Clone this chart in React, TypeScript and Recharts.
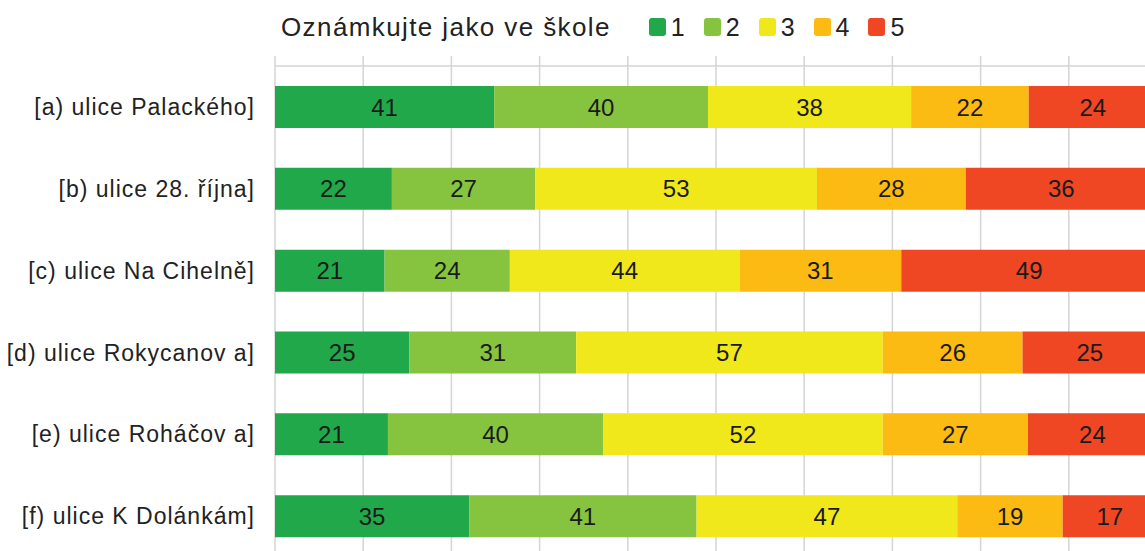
import React from 'react';
import { BarChart, Bar, XAxis, YAxis, CartesianGrid, LabelList } from 'recharts';

const title = 'Oznámkujte jako ve škole';
const categories = [
  '[a) ulice Palackého]',
  '[b) ulice 28. října]',
  '[c) ulice Na Cihelně]',
  '[d) ulice Rokycanov a]',
  '[e) ulice Roháčov a]',
  '[f) ulice K Dolánkám]',
];
const grade1 = [41, 22, 21, 25, 21, 35];
const grade2 = [40, 27, 24, 31, 40, 41];
const grade3 = [38, 53, 44, 57, 52, 47];
const grade4 = [22, 28, 31, 26, 27, 19];
const grade5 = [24, 36, 49, 25, 24, 17];
const seriesNames = ['1', '2', '3', '4', '5'];
const seriesColors = ['#21a84a', '#86c440', '#f0e81a', '#fcbb12', '#ef4624'];
const xTicks = [0, 0.1, 0.2, 0.3, 0.4, 0.5, 0.6, 0.7, 0.8, 0.9, 1];
const bandTicks = [0, 1, 2, 3, 4, 5, 6];

const data = categories.map((name, i) => ({
  name,
  g1: grade1[i],
  g2: grade2[i],
  g3: grade3[i],
  g4: grade4[i],
  g5: grade5[i],
}));
const keys = ['g1', 'g2', 'g3', 'g4', 'g5'];

const FONT = '"Liberation Sans", Arial, sans-serif';
const GRID = '#d4d4d4';

const Header = () => (
  <div style={{ position: 'absolute', left: 281, top: 9, height: 36, display: 'flex', alignItems: 'center', fontFamily: FONT, color: '#222', whiteSpace: 'nowrap' }}>
    <span style={{ fontSize: 26, letterSpacing: 1.4, marginRight: 38 }}>{title}</span>
    {seriesNames.map((n, i) => (
      <span key={n} style={{ display: 'flex', alignItems: 'center', marginRight: 19 }}>
        <span style={{ width: 17, height: 18, borderRadius: 3, background: seriesColors[i], display: 'inline-block', marginRight: 5 }} />
        <span style={{ fontSize: 25 }}>{n}</span>
      </span>
    ))}
  </div>
);

const blank = () => '';

export default function App() {
  return (
    <div style={{ position: 'absolute', left: 0, top: 0, width: 1145, height: 551, overflow: 'hidden', background: '#fff' }}>
      <BarChart
        width={1158}
        height={557}
        data={data}
        layout="vertical"
        stackOffset="expand"
        margin={{ top: 56, right: 1, bottom: 0, left: 0 }}
        barSize={42}
      >
        <CartesianGrid horizontal={false} stroke={GRID} strokeWidth={1.5} />
        <XAxis
          type="number"
          orientation="top"
          domain={[0, 1]}
          ticks={xTicks}
          height={10}
          tickSize={10}
          tickFormatter={blank}
          axisLine={{ stroke: GRID, strokeWidth: 1.5 }}
          tickLine={{ stroke: GRID, strokeWidth: 1.5 }}
        />
        <YAxis
          yAxisId="num"
          type="number"
          domain={[0, 6]}
          ticks={bandTicks}
          width={0}
          tickSize={10}
          tickFormatter={blank}
          axisLine={{ stroke: GRID, strokeWidth: 1.5 }}
          tickLine={{ stroke: GRID, strokeWidth: 1.5 }}
        />
        <YAxis
          yAxisId="cat"
          type="category"
          dataKey="name"
          width={275}
          tickSize={10}
          tickMargin={10}
          tickLine={false}
          axisLine={false}
          tick={{ fill: '#222', fontSize: 23, fontFamily: FONT, letterSpacing: 1 }}
        />
        {keys.map((k, i) => (
          <Bar key={k} yAxisId="cat" dataKey={k} name={seriesNames[i]} stackId="s" fill={seriesColors[i]} isAnimationActive={false}>
            <LabelList dataKey={k} position="center" fill="#1a1a1a" fontSize={24} fontFamily={FONT} />
          </Bar>
        ))}
      </BarChart>
      <Header />
    </div>
  );
}
